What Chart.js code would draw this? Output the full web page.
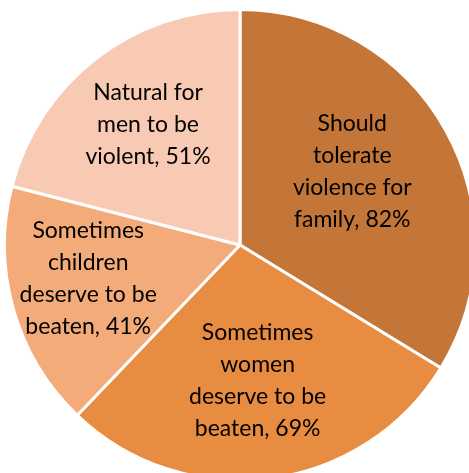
<!DOCTYPE html>
<html>
<head>
<meta charset="utf-8">
<script src="https://cdn.jsdelivr.net/npm/chart.js@4"></script>
<style>
  html, body { margin: 0; padding: 0; background: #fff; overflow: hidden; }
  #wrap { position: absolute; left: 0; top: 0; width: 480px; height: 490px; }
</style>
</head>
<body>
<div id="wrap"><canvas id="pie" width="480" height="490"></canvas></div>
<script>
// slice names, split the way the labels wrap
const categories = [
    ['Should', 'tolerate', 'violence for', 'family'],
    ['Sometimes', 'women', 'deserve to be', 'beaten'],
    ['Sometimes', 'children', 'deserve to be', 'beaten'],
    ['Natural for', 'men to be', 'violent']
];
const values = [82, 69, 41, 51];
const sliceColors = ['#C47638', '#E88C42', '#F4AB7A', '#F8CAB4'];

// where each label sits: fraction of radius + angle nudge (deg)
const labelPlace = [
    { r: 0.57, da: -4 },
    { r: 0.58, da: 0 },
    { r: 0.66, da: 3.5 },
    { r: 0.645, da: 0.5 }
];

const sliceLabels = {
    id: 'sliceLabels',
    afterDatasetsDraw(chart) {
        const ctx = chart.ctx;
        const arcs = chart.getDatasetMeta(0).data;
        ctx.save();
        ctx.font = '23px Lato';
        ctx.fillStyle = '#000';
        ctx.textAlign = 'center';
        ctx.textBaseline = 'middle';
        const lineH = 32;
        arcs.forEach((arc, i) => {
            const p = labelPlace[i];
            const mid = (arc.startAngle + arc.endAngle) / 2 + p.da * Math.PI / 180;
            const cx = arc.x + Math.cos(mid) * arc.outerRadius * p.r;
            const cy = arc.y + Math.sin(mid) * arc.outerRadius * p.r;
            const lines = categories[i].slice();
            lines[lines.length - 1] += ', ' + values[i] + '%';
            const top = cy - (lines.length - 1) * lineH / 2;
            lines.forEach((t, k) => ctx.fillText(t, cx, top + k * lineH));
        });
        ctx.restore();
    }
};

new Chart(document.getElementById('pie'), {
    type: 'pie',
    data: {
        labels: categories.map(c => c.join(' ')),
        datasets: [{
            data: values,
            backgroundColor: sliceColors,
            borderColor: '#fff',
            borderWidth: 3
        }]
    },
    options: {
        responsive: false,
        animation: false,
        layout: { padding: { left: 3, right: 3, top: 8, bottom: 8 } },
        plugins: {
            legend: { display: false },
            tooltip: { enabled: false }
        }
    },
    plugins: [sliceLabels]
});
</script>
</body>
</html>
